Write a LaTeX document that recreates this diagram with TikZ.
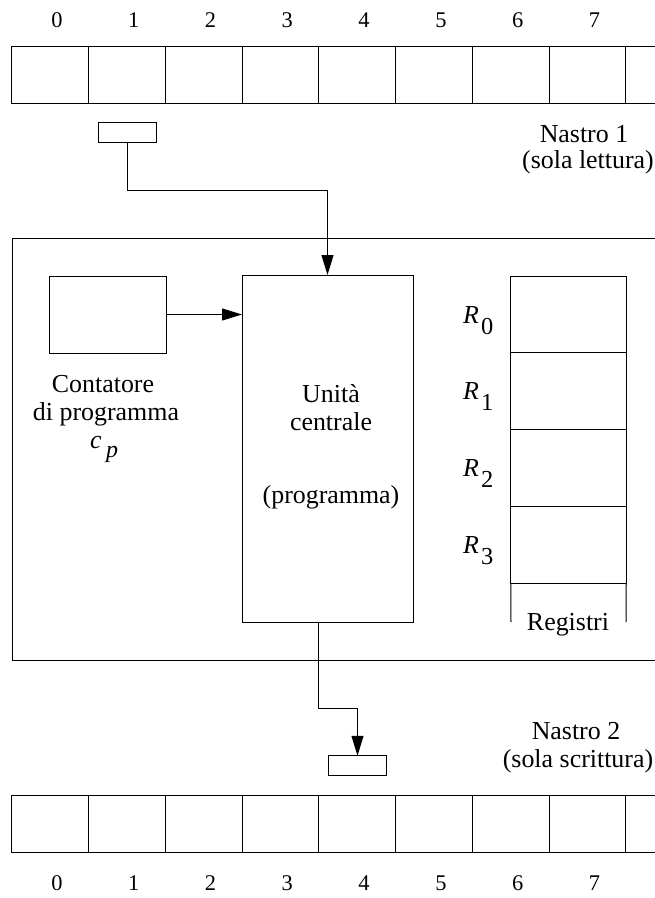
\documentclass[tikz,border=0pt]{standalone}
\usepackage{fontspec}
\setmainfont{Liberation Serif}
\usetikzlibrary{arrows.meta}
\begin{document}
\begin{tikzpicture}[x=1bp,y=-1bp,
  box/.style={draw,line width=1bp,inner sep=0pt,outer sep=0pt},
  lbl/.style={font=\fontsize{26}{30}\selectfont,anchor=base,inner sep=0pt},
  num/.style={font=\fontsize{22.5}{26}\selectfont,anchor=base,inner sep=0pt},
  subtxt/.style={font=\fontsize{24.5}{28}\selectfont,anchor=base west,inner sep=0pt},
  subit/.style={font=\fontsize{24}{28}\selectfont\itshape,anchor=base west,inner sep=0pt},
  vartxt/.style={font=\fontsize{26}{30}\selectfont\itshape,anchor=base west,inner sep=0pt},
  conn/.style={line width=1bp},
  arr/.style={conn,-{Triangle[length=20bp,width=12bp]}}]
\useasboundingbox (0,0) rectangle (655,898);
\clip (0,0) rectangle (655,898);
% tapes
\foreach \i in {0,...,8} {
  \node[box,minimum width=76.77bp,minimum height=57bp] (ta\i) at ({50.1+76.77*\i},74.5) {};
  \node[box,minimum width=76.77bp,minimum height=57bp] (tb\i) at ({50.1+76.77*\i},823.5) {};
}
\foreach \i in {0,...,7} {
  \node[num] (na\i) at ({57+76.77*\i},27) {\i};
  \node[num] (nb\i) at ({57+76.77*\i},890) {\i};
}
% heads
\node[box,minimum width=58bp,minimum height=19.5bp] (h1) at (127,132.5) {};
\node[box,minimum width=58bp,minimum height=19.5bp] (h2) at (357.5,765.5) {};
% machine box
\draw[conn] (12,238) rectangle (680,660);
\node[box,minimum width=116bp,minimum height=77bp] (cnt) at (108,314.5) {};
\node[box,minimum width=171bp,minimum height=347bp] (cpu) at (327.5,448.5) {};
\foreach \i in {0,...,3} {
  \node[box,minimum width=115.5bp,minimum height=76.8bp] (reg\i) at (568.5,{314.4+76.8*\i}) {};
  \node[vartxt] (rn\i) at (463,{323+76.8*\i}) {R};
  \node[subtxt] (rs\i) at (481,{334+76.8*\i}) {\i};
}
\coordinate (rl) at (511,622);
\coordinate (rr) at (626,622);
\draw[conn] (reg3.south west) -- (rl);
\draw[conn] (reg3.south east) -- (rr);
% connectors
\coordinate (k1) at (127,190);
\draw[arr] (h1.south) -- (k1) -| (cpu.north);
\draw[arr] (cnt.east) -- (cnt.east -| cpu.west);
\coordinate (k2) at (318,708);
\draw[arr] (cpu.south -| k2) -- (k2) -| (h2.north);
% labels
\node[lbl] (n1a) at (584,142) {Nastro 1};
\node[lbl] (n1b) at (588,168) {(sola lettura)};
\node[lbl] (n2a) at (576,739) {Nastro 2};
\node[lbl] (n2b) at (578,767) {(sola scrittura)};
\node[lbl] (u1) at (331,402) {Unità};
\node[lbl] (u2) at (331,430) {centrale};
\node[lbl] (u3) at (331,503) {(programma)};
\node[lbl] (c1) at (103,392) {Contatore};
\node[lbl] (c2) at (106,420) {di programma};
\node[vartxt] (cpc) at (90,448) {c};
\node[subit] (cpp) at (106,457) {p};
\node[lbl] (regl) at (568,630) {Registri};
\end{tikzpicture}
\end{document}
